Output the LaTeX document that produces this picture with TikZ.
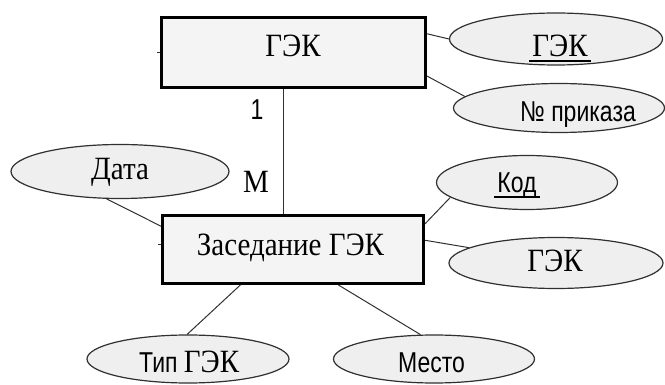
\documentclass[tikz,border=0pt]{standalone}
\usepackage{fontspec}
\usepackage{graphicx}
\setmainfont{Liberation Serif}
\newfontfamily\sansf{Liberation Sans}
\usetikzlibrary{shapes.geometric}
\newcommand{\ulx}[1]{{\setbox0\hbox{#1}\rlap{\hskip-3pt\vrule width\dimexpr\wd0+6pt height -3pt depth 4.6pt}\box0}}
\newcommand{\sertall}[1]{\scalebox{1}[1.12]{#1}}
\newcommand{\santall}[1]{\scalebox{1}[1.25]{#1}}
\definecolor{boxfill}{HTML}{F4F4F4}
\definecolor{ellfill}{HTML}{EFEFEF}
\definecolor{linec}{HTML}{303030}
\tikzset{
  entbox/.style={draw=black, line width=3pt, fill=boxfill, rectangle, inner sep=0pt},
  attr/.style={draw=linec, line width=1.2pt, fill=ellfill, ellipse, inner sep=0pt},
  sertxt/.style={font=\fontsize{29}{31}\selectfont, inner sep=0pt, anchor=base},
  santxt/.style={font=\sansf\fontsize{23}{25}\selectfont, inner sep=0pt, anchor=base},
  conn/.style={draw=linec, line width=1pt},
}
\begin{document}
\begin{tikzpicture}[x=1pt, y=-1pt]
\useasboundingbox (0,0) rectangle (665,385);
% entities
\node[entbox, minimum width=264pt, minimum height=70pt] (top) at (293.5,52.5) {};
\node[entbox, minimum width=261pt, minimum height=68pt] (bot) at (293,249.5) {};
\node[sertxt] (toptxt) at (293,57) {\sertall{ГЭК}};
\node[sertxt] (bottxt) at (290.5,256) {\sertall{Заседание ГЭК}};
% attributes
\node[attr, minimum width=213pt, minimum height=52pt] (e1) at (556,39) {};
\node[attr, minimum width=211pt, minimum height=49pt] (e2) at (559,108) {};
\node[attr, minimum width=218pt, minimum height=54pt] (data) at (120,171.5) {};
\node[attr, minimum width=181pt, minimum height=54pt] (kod) at (527,182.5) {};
\node[attr, minimum width=214pt, minimum height=51pt] (e3) at (556,263) {};
\node[attr, minimum width=202pt, minimum height=48pt] (tip) at (188,359) {};
\node[attr, minimum width=201pt, minimum height=48pt] (mesto) at (434,359) {};
\node[sertxt] (e1t) at (560,57) {\ulx{\sertall{ГЭК}}};
\node[santxt] (e2t) at (578,122) {\santall{№ приказа}};
\node[sertxt] (datat) at (120,180) {\sertall{Дата}};
\node[santxt] (kodt) at (517,193) {\ulx{\santall{Код}}};
\node[sertxt] (e3t) at (555,272) {\sertall{ГЭК}};
\node[santxt, anchor=base west] (tipt) at (139,372) {\santall{Тип} \rmfamily\fontsize{29}{31}\selectfont\sertall{ГЭК}};
\node[santxt] (mestot) at (431.5,372) {\santall{Место}};
% cardinalities
\node[santxt] (one) at (257,120) {\santall{1}};
\node[sertxt] (many) at (256,193) {\sertall{M}};
% connectors
\draw[conn] (top.8.7) -- (e1.180);
\draw[conn] (top.-10) -- (e2.173.5);
\draw[conn, line width=1.3pt] ([xshift=-10pt]top.south) -- ([xshift=-10pt]top.south |- bot.north);
\draw[conn] (data.244.5) -- (bot.170.4);
\draw[conn] (bot.11.8) -- (kod.191.7);
\draw[conn] (bot.4.1) -- (e3.170.7);
\draw[conn] (bot.214.8) -- (tip.92);
\draw[conn] (bot.-38.9) -- (mesto.119.4);
% small ticks on the left of the entities
\draw[conn] (top.west) -- ++(-3,0);
\draw[conn] ([yshift=5pt]bot.west) -- ++(-3,0);
\end{tikzpicture}
\end{document}
